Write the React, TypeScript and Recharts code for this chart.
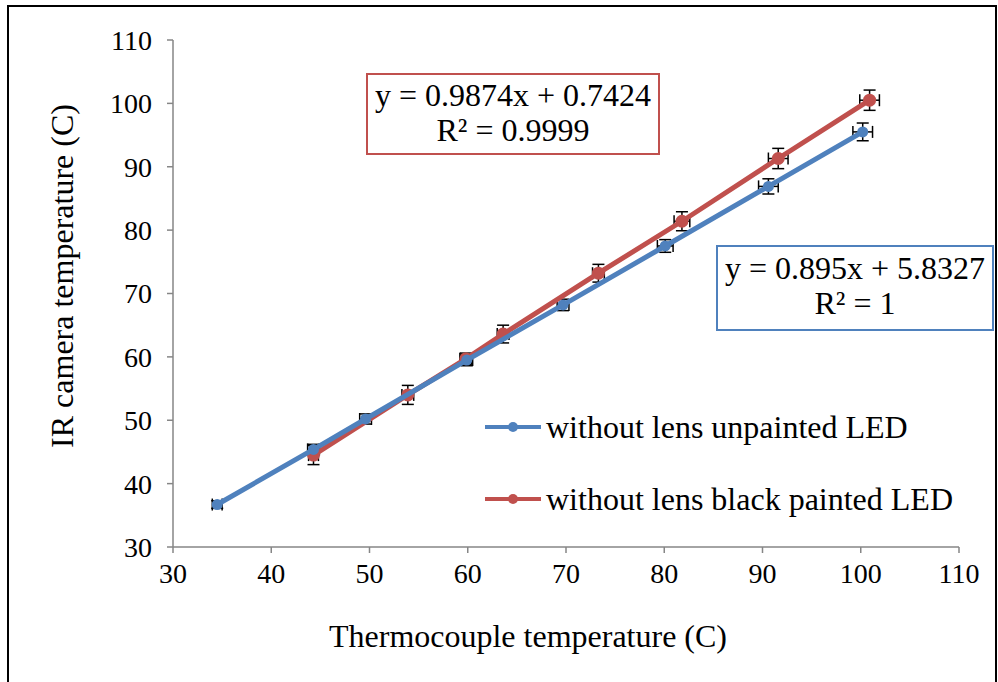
import { ScatterChart, Scatter, XAxis, YAxis, ErrorBar, Legend } from 'recharts';

const FONT = '"Liberation Serif", "Times New Roman", serif';
const BLUE = '#4F81BD';
const RED = '#C0504D';

const xTicks = [30, 40, 50, 60, 70, 80, 90, 100, 110];
const yTicks = [30, 40, 50, 60, 70, 80, 90, 100, 110];

// without lens unpainted LED
const unpaintedX = [34.5, 44.3, 49.6, 59.9, 69.7, 80.1, 90.6, 100.2];
const unpaintedY = [36.7, 45.4, 50.2, 59.5, 68.2, 77.5, 86.9, 95.5];
const unpaintedXErr = [0.5, 0.6, 0.6, 0.6, 0.6, 0.8, 1.0, 1.0];
const unpaintedYErr = [0.6, 0.8, 0.8, 0.9, 0.9, 1.0, 1.2, 1.4];

// without lens black painted LED
const paintedX = [44.3, 53.9, 59.8, 63.6, 73.3, 81.8, 91.6, 100.9];
const paintedY = [44.5, 54.0, 59.7, 63.6, 73.2, 81.4, 91.3, 100.5];
const paintedXErr = [0.5, 0.6, 0.6, 0.6, 0.6, 0.8, 1.0, 1.0];
const paintedYErr = [1.5, 1.5, 0.9, 1.4, 1.4, 1.5, 1.6, 1.6];

const unpainted = unpaintedX.map((x, i) => ({ x, y: unpaintedY[i], ex: unpaintedXErr[i], ey: unpaintedYErr[i] }));
const painted = paintedX.map((x, i) => ({ x, y: paintedY[i], ex: paintedXErr[i], ey: paintedYErr[i] }));

const dot = (color: string, r: number) => (props: any) => (
  <circle cx={props.cx} cy={props.cy} r={r} fill={color} />
);

function LegendBox() {
  const items = [
    { name: 'without lens unpainted LED', color: BLUE },
    { name: 'without lens black painted LED', color: RED },
  ];
  return (
    <div style={{ fontFamily: FONT, fontSize: 32, color: '#000' }}>
      {items.map((it) => (
        <div key={it.name} style={{ display: 'flex', alignItems: 'center', height: 72 }}>
          <svg width={58} height={16} style={{ marginRight: 3 }}>
            <line x1={0} y1={8} x2={56} y2={8} stroke={it.color} strokeWidth={4} />
            <circle cx={28} cy={8} r={5} fill={it.color} />
          </svg>
          <span>{it.name}</span>
        </div>
      ))}
    </div>
  );
}

const boxText: React.CSSProperties = {
  position: 'absolute',
  fontFamily: FONT,
  fontSize: 32,
  lineHeight: '35px',
  textAlign: 'center',
  background: '#fff',
  color: '#000',
  whiteSpace: 'nowrap',
};

export default function App() {
  const tick = { fill: '#000', fontSize: 28, fontFamily: FONT };
  return (
    <div style={{ position: 'absolute', left: 0, top: 0, width: 998, height: 682, background: '#fff' }}>
      <div
        style={{
          position: 'absolute', left: 7, top: 5, width: 986, height: 675,
          borderLeft: '2px solid #000', borderTop: '2px solid #000', borderRight: '2px solid #000',
          borderBottom: '1px solid #e6e6e6',
        }}
      />
      <div style={{ position: 'absolute', left: 0, top: 0 }}>
        <ScatterChart width={998} height={682} margin={{ top: 40, right: 39, bottom: 75, left: 0 }}>
          <XAxis
            type="number"
            dataKey="x"
            domain={[30, 110]}
            ticks={xTicks}
            interval={0}
            height={60}
            tick={tick}
            tickSize={6}
            tickMargin={10}
            axisLine={{ stroke: '#868686', strokeWidth: 1.5 }}
            tickLine={{ stroke: '#868686', strokeWidth: 1.5 }}
          />
          <YAxis
            type="number"
            dataKey="y"
            domain={[30, 110]}
            ticks={yTicks}
            interval={0}
            width={173}
            tick={tick}
            tickSize={6}
            tickMargin={15}
            axisLine={{ stroke: '#868686', strokeWidth: 1.5 }}
            tickLine={{ stroke: '#868686', strokeWidth: 1.5 }}
          />
          <Legend
            layout="vertical"
            align="center"
            verticalAlign="middle"
            content={() => <LegendBox />}
            wrapperStyle={{ left: 485, top: 391, width: 500 }}
          />
          <Scatter
            name="without lens black painted LED"
            data={painted}
            line={{ stroke: RED, strokeWidth: 5 }}
            shape={dot(RED, 6.5)}
            isAnimationActive={false}
          >
            <ErrorBar dataKey="ey" direction="y" width={6} stroke="#000" strokeWidth={1.5} />
            <ErrorBar dataKey="ex" direction="x" width={6} stroke="#000" strokeWidth={1.5} />
          </Scatter>
          <Scatter
            name="without lens unpainted LED"
            data={unpainted}
            line={{ stroke: BLUE, strokeWidth: 5 }}
            shape={dot(BLUE, 5.5)}
            isAnimationActive={false}
          >
            <ErrorBar dataKey="ey" direction="y" width={6} stroke="#000" strokeWidth={1.5} />
            <ErrorBar dataKey="ex" direction="x" width={6} stroke="#000" strokeWidth={1.5} />
          </Scatter>
        </ScatterChart>
      </div>

      <div style={{ ...boxText, left: 366, top: 73, width: 290, height: 75, border: `2px solid ${RED}`, paddingTop: 3 }}>
        <div>y = 0.9874x + 0.7424</div>
        <div>R² = 0.9999</div>
      </div>
      <div style={{ ...boxText, left: 716, top: 245, width: 274, height: 78, border: `2px solid ${BLUE}`, paddingTop: 4 }}>
        <div>y = 0.895x + 5.8327</div>
        <div>R² = 1</div>
      </div>

      <div
        style={{
          position: 'absolute', left: 62, top: 276, transform: 'translate(-50%, -50%) rotate(-90deg)',
          fontFamily: FONT, fontSize: 32, whiteSpace: 'nowrap', color: '#000',
        }}
      >
        IR camera temperature (C)
      </div>
      <div
        style={{
          position: 'absolute', left: 528, top: 636, transform: 'translate(-50%, -50%)',
          fontFamily: FONT, fontSize: 32, whiteSpace: 'nowrap', color: '#000',
        }}
      >
        Thermocouple temperature (C)
      </div>
    </div>
  );
}
